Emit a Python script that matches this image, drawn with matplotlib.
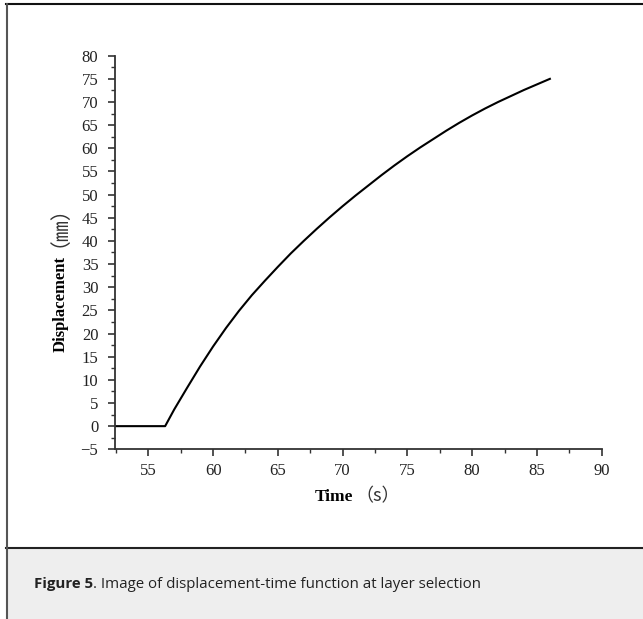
import matplotlib
matplotlib.use("Agg")
import matplotlib.pyplot as plt
from matplotlib.lines import Line2D
from matplotlib.patches import Rectangle
from matplotlib.ticker import FuncFormatter, MultipleLocator

# displacement of the layer over time
time_s = [52.43, 56.3, 57, 58, 59, 60, 61, 62, 63, 64, 65, 66, 67, 68, 69, 70,
          71, 72, 73, 74, 75, 76, 77, 78, 79, 80, 81, 82, 83, 84, 85, 86]
displacement_mm = [0.0, 0.0, 3.6, 8.3, 12.9, 17.2, 21.2, 24.9, 28.3, 31.4, 34.4,
                   37.3, 40.0, 42.6, 45.1, 47.5, 49.8, 52.0, 54.2, 56.3, 58.3,
                   60.2, 62.0, 63.8, 65.5, 67.1, 68.6, 70.0, 71.3, 72.6, 73.8, 75.0]

x_limits = (52.43, 90)
y_limits = (-5, 80)
x_ticks = [55, 60, 65, 70, 75, 80, 85, 90]
caption_bold = "Figure 5"
caption_rest = ". Image of displacement-time function at layer selection"

W, H = 643, 619
fig = plt.figure(figsize=(W / 100, H / 100), dpi=100)


def fx(px):
    return px / W


def fy(py):
    return 1 - py / H


# page frame and caption panel
fig.patches.append(Rectangle((fx(6), 0), 1 - fx(6), fy(548), transform=fig.transFigure,
                             facecolor="#eeeeee", edgecolor="none", zorder=0))
fig.lines.append(Line2D([fx(6), 1], [fy(548), fy(548)], transform=fig.transFigure,
                        color="#222222", lw=1.5))
fig.lines.append(Line2D([fx(6), 1], [fy(4), fy(4)], transform=fig.transFigure,
                        color="#111111", lw=1.5))
fig.lines.append(Line2D([fx(6.5), fx(6.5)], [fy(4), 0], transform=fig.transFigure,
                        color="#555555", lw=1.5))

ax = fig.add_axes([fx(115), fy(449.3), fx(601.7) - fx(115), fy(55.7) - fy(449.3)])
ax.plot(time_s, displacement_mm, color="black", lw=1.5, solid_joinstyle="round")
ax.set_xlim(*x_limits)
ax.set_ylim(*y_limits)
ax.set_xticks(x_ticks)
ax.xaxis.set_minor_locator(MultipleLocator(2.5))
ax.yaxis.set_major_locator(MultipleLocator(5))
ax.yaxis.set_minor_locator(MultipleLocator(2.5))
ax.yaxis.set_major_formatter(FuncFormatter(lambda v, _: f"{int(round(v))}".replace("-", "\u2212")))
for side in ("top", "right"):
    ax.spines[side].set_visible(False)
for side in ("left", "bottom"):
    ax.spines[side].set_color("#333333")
    ax.spines[side].set_linewidth(1.3)
ax.tick_params(which="major", direction="out", length=5, width=1.2, color="#333333")
ax.tick_params(which="minor", direction="out", length=3, width=1.0, color="#333333")
ax.tick_params(axis="y", pad=7)
ax.tick_params(axis="x", pad=5)
for lab in ax.get_xticklabels() + ax.get_yticklabels():
    lab.set_fontfamily("Liberation Serif")
    lab.set_fontsize(12)
    lab.set_color("#222222")

renderer = fig.canvas.get_renderer()
serif = ["Liberation Serif", "Noto Sans CJK SC"]
cjk = ["Noto Sans CJK SC", "Liberation Serif"]

# x label: "Time" bold followed by the unit
t1 = fig.text(0, 0, "Time", fontfamily=serif, fontweight="bold", fontsize=12.5,
              va="baseline", ha="left")
t2 = fig.text(0, 0, "（s）", fontfamily=cjk, fontsize=13, va="baseline", ha="left",
              color="#333333")
w1 = t1.get_window_extent(renderer).width
w2 = t2.get_window_extent(renderer).width
start = 356 - (w1 + w2) / 2
t1.set_position((fx(start), fy(501)))
t2.set_position((fx(start + w1 + 2), fy(501)))

# y label: "Displacement" bold followed by the unit, rotated
y1 = fig.text(0, 0, "Displacement", fontfamily=serif, fontweight="bold", fontsize=12,
              rotation=90, rotation_mode="anchor", va="baseline", ha="left")
y2 = fig.text(0, 0, "（㎜）", fontfamily=cjk, fontsize=15, rotation=90,
              rotation_mode="anchor", va="baseline", ha="left", color="#333333")
h1 = y1.get_window_extent(renderer).height
y1.set_position((fx(65), fy(352)))
y2.set_position((fx(55), fy(352 - h1 - 9)))

# caption
c1 = fig.text(fx(34), fy(584), caption_bold, fontfamily="Open Sans", fontweight="bold",
              fontsize=10.8, va="center", ha="left", color="#222222")
cw = c1.get_window_extent(renderer).width
fig.text(fx(34 + cw), fy(584), caption_rest, fontfamily="Open Sans", fontsize=10.8,
         va="center", ha="left", color="#222222")

fig.savefig("out.png", dpi=100)
